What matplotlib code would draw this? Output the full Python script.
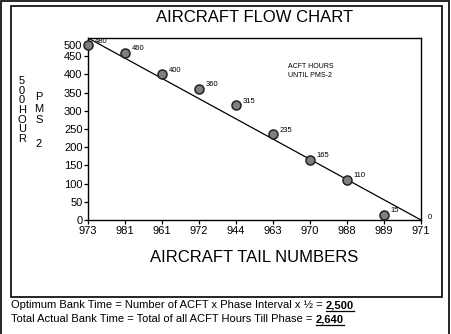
"""Aircraft flow chart: hours until PMS-2 per tail number."""

import matplotlib
matplotlib.use("Agg")
import matplotlib.pyplot as plt
from matplotlib.patches import Rectangle

plt.rcParams["font.family"] = ["Liberation Sans", "DejaVu Sans"]

W, H = 451, 334

tail_numbers = ["973", "981", "961", "972", "944", "963", "970", "988", "989", "971"]
hours_left = [480, 460, 400, 360, 315, 235, 165, 110, 15, 0]
ideal_hours = [500, 0]  # straight flow line, first to last aircraft
y_tick_vals = [0, 50, 100, 150, 200, 250, 300, 350, 400, 450, 480]
y_tick_labels = ["0", "50", "100", "150", "200", "250", "300", "350", "400", "450", "500"]


def fx(px):
    return px / W


def fy(py):
    return 1 - py / H


fig = plt.figure(figsize=(W / 100, H / 100), dpi=100)
fig.patch.set_facecolor("white")

# outer border and inner frame
fig.patches.append(Rectangle((fx(1), fy(340)), fx(448), 339 / H, transform=fig.transFigure,
                             fill=False, edgecolor="black", linewidth=1.2))
fig.patches.append(Rectangle((fx(10.5), fy(297)), fx(431), 291 / H, transform=fig.transFigure,
                             fill=False, edgecolor="black", linewidth=1.2))

ax = fig.add_axes([fx(88), fy(220), fx(333), 182 / H])
x = list(range(len(tail_numbers)))

ax.plot([x[0], x[-1]], ideal_hours, color="black", linewidth=0.9, zorder=2)
pts = [(i, v) for i, v in zip(x, hours_left) if v > 0]
ax.plot([p[0] for p in pts], [p[1] for p in pts], linestyle="none", marker="o",
        markersize=6.5, markerfacecolor="#7f7f7f", markeredgecolor="#222222",
        markeredgewidth=1.1, zorder=3, clip_on=False)
for i, v in zip(x, hours_left):
    ax.annotate(str(v), (i, v), xytext=(5, 3 if v > 0 else 2), textcoords="offset points",
                ha="left", va="center", fontsize=5.5, annotation_clip=False)

ax.text(0.6, 0.86, "ACFT HOURS\nUNTIL PMS-2", transform=ax.transAxes, fontsize=5,
        ha="left", va="top", linespacing=1.3)

ax.set_xlim(0, len(tail_numbers) - 1)
ax.set_ylim(0, 500)
ax.set_xticks(x)
ax.set_xticklabels(tail_numbers)
ax.set_yticks(y_tick_vals)
ax.set_yticklabels(y_tick_labels)
ax.tick_params(direction="out", length=3, width=0.9, labelsize=8, pad=1)
for s in ax.spines.values():
    s.set_linewidth(1.0)

fig.text(fx(254.5), fy(17), "AIRCRAFT FLOW CHART", ha="center", va="center", fontsize=12)
fig.text(fx(254.5), fy(258), "AIRCRAFT TAIL NUMBERS", ha="center", va="center", fontsize=12)

fig.text(fx(22), fy(110), "\n".join("500HOUR"), ha="center", va="center",
         fontsize=8, linespacing=0.95)
fig.text(fx(39), fy(120.5), "P\nM\nS\n\n2", ha="center", va="center",
         fontsize=8, linespacing=1.2)

# bottom formulas with bold, underlined totals
lines = [
    ("Optimum Bank Time = Number of ACFT x Phase Interval x \u00bd = ", "2,500", 305),
    ("Total Actual Bank Time = Total of all ACFT Hours Till Phase = ", "2,640", 319),
]
renderer = fig.canvas.get_renderer()
for plain, total, py in lines:
    t = fig.text(fx(11), fy(py), plain, ha="left", va="center", fontsize=8)
    bb = t.get_window_extent(renderer)
    t2 = fig.text(bb.x1 / W, fy(py), total, ha="left", va="center", fontsize=8,
                  fontweight="bold")
    bb2 = t2.get_window_extent(renderer)
    fig.add_artist(plt.Line2D([bb2.x0 / W, bb2.x1 / W], [(bb2.y0 - 1) / H] * 2,
                              transform=fig.transFigure, color="black", linewidth=0.9))

fig.savefig("out.png", dpi=100)
